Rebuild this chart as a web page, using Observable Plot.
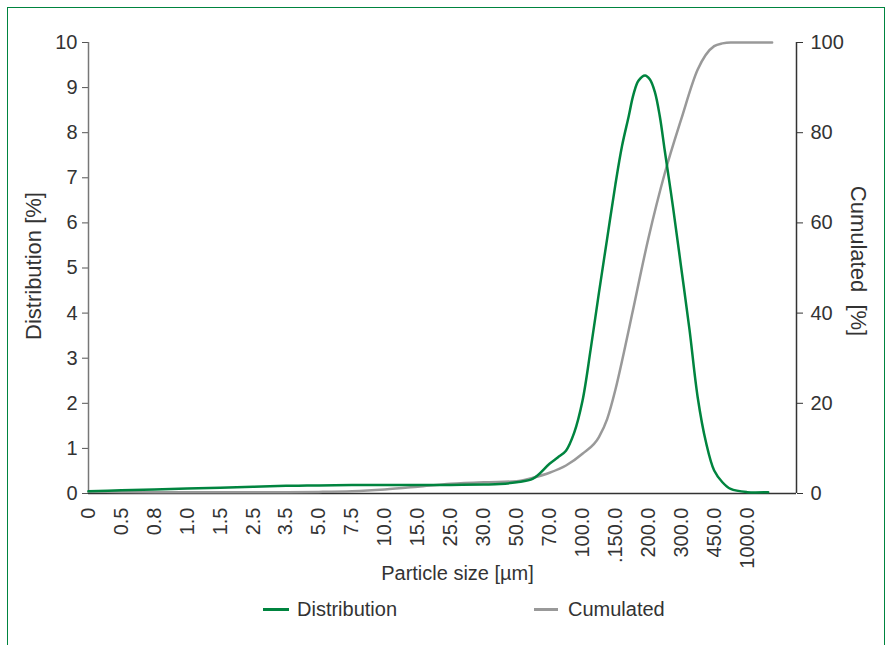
<!DOCTYPE html>
<html>
<head>
<meta charset="utf-8">
<script src="https://cdn.jsdelivr.net/npm/d3@7"></script>
<script src="https://cdn.jsdelivr.net/npm/@observablehq/plot@0.6"></script>
<style>
  body { margin: 0; background: #fff; }
  #wrap { position: relative; width: 890px; height: 645px; overflow: hidden; font-family: "Liberation Sans", Arial, sans-serif; color: #333; }
  #frame { position: absolute; left: 7px; top: 7px; width: 878px; height: 700px; border: 1.5px solid #00843f; box-sizing: border-box; }
  #chart { position: absolute; left: 0; top: 0; }
  .leg { position: absolute; top: 597px; font-size: 20px; line-height: 24px; white-space: nowrap; }
  .sw { position: absolute; height: 2.5px; top: 608px; }
</style>
</head>
<body>
<div id="wrap">
  <div id="frame"></div>
  <div id="chart"></div>
  <div class="sw" style="left:263px;width:26px;background:#00843f"></div>
  <div class="leg" style="left:297px">Distribution</div>
  <div class="sw" style="left:534px;width:24px;background:#999"></div>
  <div class="leg" style="left:568px">Cumulated</div>
</div>
<script>
// Categories on the x axis (particle size, µm)
const categories = ["0","0.5","0.8","1.0","1.5","2.5","3.5","5.0","7.5","10.0","15.0","25.0","30.0","50.0","70.0","100.0",".150.0","200.0","300.0","450.0","1000.0"];

// Distribution [%] — positions in category-index units
const distPos = [0,1,2,3,4,5,6,7,8,9,10,11,12,12.5,13,13.5,14,14.25,14.5,14.75,15,15.25,15.5,15.75,16,16.2,16.4,16.55,16.7,16.9,17.05,17.2,17.35,17.5,17.75,18,18.25,18.5,18.75,19,19.25,19.5,20,20.64];
const distVal = [0.05,0.07,0.09,0.11,0.13,0.15,0.17,0.18,0.19,0.19,0.19,0.19,0.2,0.21,0.25,0.33,0.66,0.8,0.95,1.35,2.05,3.2,4.45,5.65,6.85,7.7,8.35,8.85,9.15,9.27,9.18,8.9,8.36,7.6,6.35,5.0,3.64,2.13,1.14,0.51,0.25,0.1,0.03,0.03];

// Cumulated [%]
const cumPos = [0,1,2,3,4,5,6,7,8,9,10,11,12,13,13.5,14,14.5,15,15.5,15.75,16,16.25,16.5,17,17.5,18,18.5,19,19.25,19.5,20,20.76];
const cumVal = [0.4,0.35,0.3,0.3,0.3,0.3,0.3,0.35,0.5,0.9,1.5,2.15,2.5,2.7,3.5,4.6,6.2,8.8,12.5,16.5,23,31,39.5,56.5,71,83,94,99.2,99.8,100,100,100];

const leftTicks = [0,1,2,3,4,5,6,7,8,9,10];
const rightTicks = [0,20,40,60,80,100];

const dist = distPos.map((p, i) => ({x: p, v: distVal[i]}));
const cum = cumPos.map((p, i) => ({x: p, v: cumVal[i]}));

const xMax = 21.5;

const chart = Plot.plot({
  width: 890,
  height: 590,
  marginTop: 42,
  marginBottom: 97,
  marginLeft: 88,
  marginRight: 94,
  style: { fontFamily: "Liberation Sans, Arial, sans-serif", fontSize: "20px", color: "#333", background: "transparent", overflow: "visible" },
  x: { domain: [0, xMax] },
  y: { domain: [0, 10] },
  marks: [
    Plot.axisY({ anchor: "left", ticks: leftTicks, tickSize: 6, tickPadding: 5, label: null, stroke: "#555", fill: "#333" }),
    Plot.axisY({ anchor: "right", ticks: rightTicks.map(v => v / 10), tickFormat: d => String(Math.round(d * 10)), tickSize: 6, tickPadding: 8, label: null, stroke: "#333", fill: "#333" }),
    Plot.axisX({ ticks: d3.range(categories.length), tickFormat: i => categories[i], tickRotate: -90, tickSize: 0, tickPadding: 14, label: null, fill: "#333" }),
    Plot.ruleX([0], { stroke: "#777", strokeWidth: 1.5 }),
    Plot.ruleX([xMax], { stroke: "#333", strokeWidth: 1.5 }),
    Plot.ruleY([0], { stroke: "#333", strokeWidth: 1.5 }),
    Plot.line(cum, { x: "x", y: d => d.v / 10, stroke: "#999", strokeWidth: 2.5, curve: "monotone-x" }),
    Plot.line(dist, { x: "x", y: "v", stroke: "#00843f", strokeWidth: 2.5, curve: "catmull-rom" }),
    Plot.text(["Particle size [µm]"], { frameAnchor: "bottom", dx: 15, dy: 86, fontSize: 20, fill: "#333" }),
    Plot.text(["Distribution [%]"], { frameAnchor: "left", textAnchor: "middle", dx: -55, dy: -2, rotate: -90, fontSize: 22, fill: "#333" }),
    Plot.text(["Cumulated  [%]"], { frameAnchor: "right", textAnchor: "middle", dx: 62, dy: -7, rotate: 90, fontSize: 22, fill: "#333" })
  ]
});
document.getElementById("chart").appendChild(chart);
</script>
</body>
</html>
